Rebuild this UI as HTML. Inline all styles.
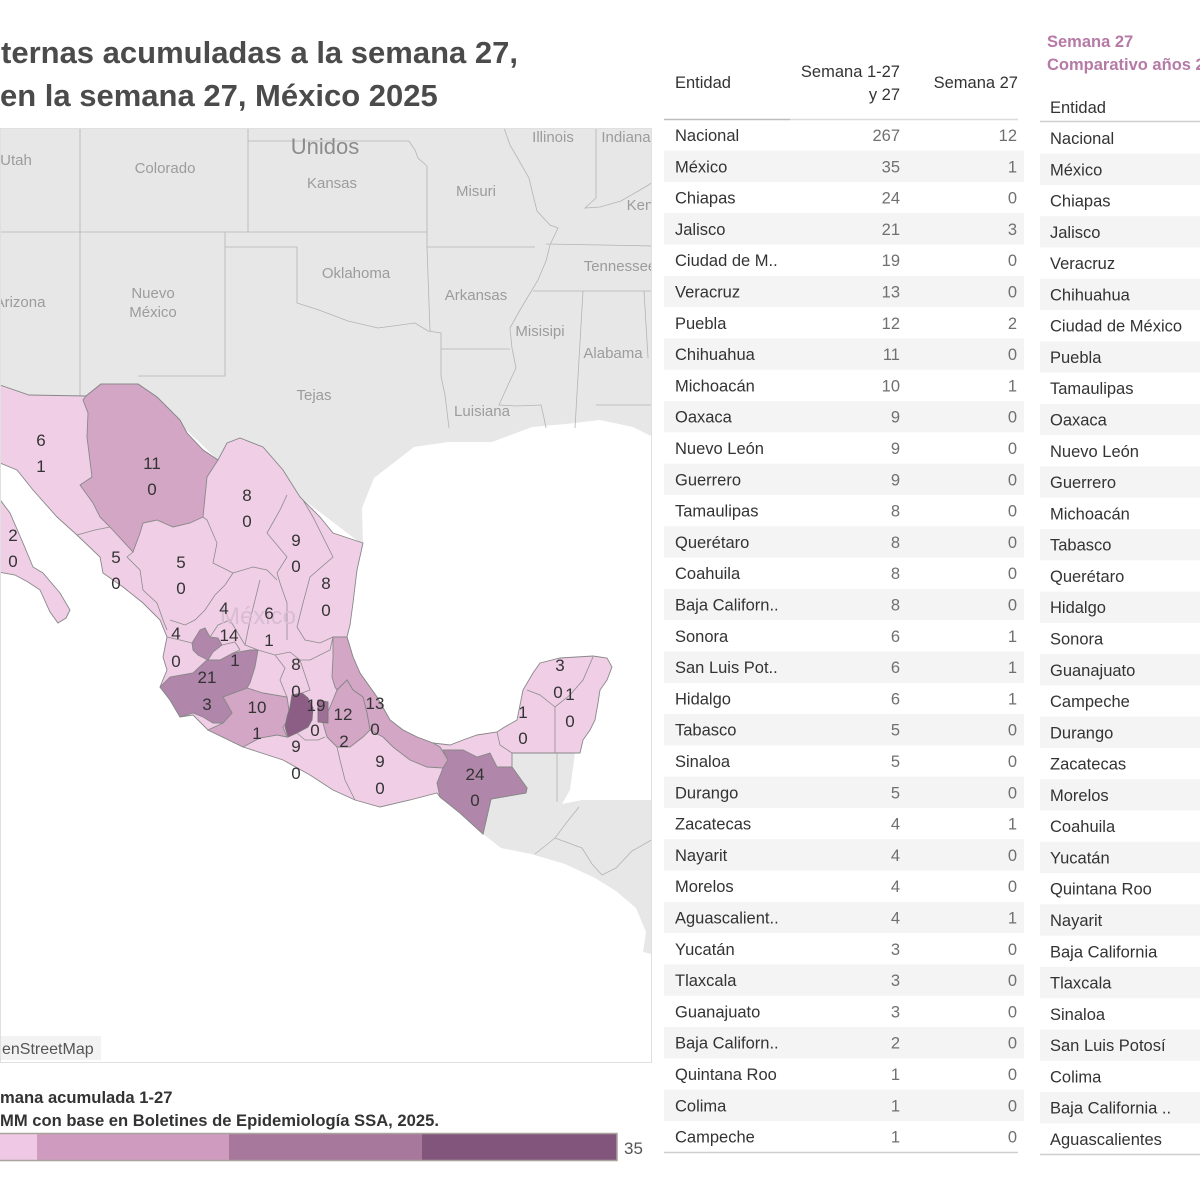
<!DOCTYPE html>
<html><head><meta charset="utf-8"><style>
html,body{margin:0;padding:0;background:#fff;width:1200px;height:1200px;overflow:hidden}
svg{display:block}
text{font-family:"Liberation Sans",sans-serif}
.t{font-size:16.5px;fill:#333}
.n{font-size:16.5px;fill:#707070;text-anchor:end}
.us{font-size:15px;fill:#9c9c9c;text-anchor:middle}
.ml{font-size:17px;fill:#333;text-anchor:middle}
.b{fill:none;stroke:#8c8c8c;stroke-width:0.8}
.ub{fill:none;stroke:#b4b4b4;stroke-width:0.8}
</style></head><body>
<svg width="1200" height="1200" viewBox="0 0 1200 1200" xmlns="http://www.w3.org/2000/svg">
<defs><clipPath id="mc"><rect x="0" y="128" width="651" height="934"/></clipPath></defs>

<!-- Title -->
<text x="1" y="63" style="font-size:31px;font-weight:bold;fill:#4b4b4b">ternas acumuladas a la semana 27,</text>
<text x="0" y="106" style="font-size:31px;font-weight:bold;fill:#4b4b4b">en la semana 27, México 2025</text>

<!-- Map -->
<g clip-path="url(#mc)">
<rect x="0" y="128" width="651" height="934" fill="#fff"/>
<path fill="#e7e7e7" d="M0,128 L651,128 L651,436 L633,427 L600,420 L566,424 L532,427 L492,442 L448,442 L414,447 L374,478 L362,508 L363,545 L300,497 L218,460 L138,384 L101,384 L86,396 L29,395 L0,385 Z"/>
<path fill="#e7e7e7" d="M512,753 L575,753 L570,790 L562,804 L582,800 L655,800 L655,955 L643,952 L646,932 L636,908 L616,891 L595,878 L565,864 L531,854 L501,848 L483,834 L486,821 L491,799 L526,793 L527,788 L512,767 Z"/>
<!-- US borders -->
<path class="ub" d="M80,128 L80,396 M0,232 L427,232 M248,128 L248,232 M248,141 L409,141 L415,150 L418,158 L427,166 L427,247 M225,232 L225,376 L138,376 M225,247 L297,247 L297,303 L319,310 L348,321 L378,328 L415,323 L428,331 L441,333 L441,376 L445,395 L449,428 M427,247 L535,247 M427,247 L430,331 M441,349 L510,349 M504,128 L510,145 L529,178 L533,195 L537,211 L550,225 L558,228 L550,245 L546,261 L538,280 L529,295 L520,310 L510,328 L512,348 L516,368 L508,385 L499,405 L516,406 L541,405 L544,418 L546,428 M546,244 L655,246 M596,128 L596,198 L585,208 L600,207 L621,201 L640,190 L655,181 M533,291 L655,291 M583,291 L575,428 M644,291 L648,358 M596,405 L655,405"/>
<path class="ub" d="M557,753 L557,802 M579,807 L567,822 L555,838 L535,854 M555,838 L582,848 L592,864 L602,875 L616,868 L632,851 L655,838"/>
<!-- US labels -->
<text x="16" y="165" class="us">Utah</text>
<text x="165" y="173" class="us">Colorado</text>
<text x="325" y="154" class="us" style="font-size:22px;fill:#8c8c8c">Unidos</text>
<text x="332" y="188" class="us">Kansas</text>
<text x="476" y="196" class="us">Misuri</text>
<text x="553" y="142" class="us">Illinois</text>
<text x="626" y="142" class="us">Indiana</text>
<text x="640" y="210" class="us">Ken</text>
<text x="620" y="271" class="us">Tennessee</text>
<text x="356" y="278" class="us">Oklahoma</text>
<text x="476" y="300" class="us">Arkansas</text>
<text x="20" y="307" class="us">Arizona</text>
<text x="153" y="298" class="us">Nuevo</text>
<text x="153" y="317" class="us">México</text>
<text x="540" y="336" class="us">Misisipi</text>
<text x="613" y="358" class="us">Alabama</text>
<text x="314" y="400" class="us">Tejas</text>
<text x="482" y="416" class="us">Luisiana</text>

<!-- Mexico base -->
<path fill="#efcee6" stroke="#888" stroke-width="0.9" d="M0,385 L29,395 L86,396 L101,384 L138,384 L157,397 L180,420 L187,433 L203,450 L218,460 L227,443 L240,438 L263,447 L283,470 L300,497 L320,517 L333,533 L363,543 L357,570 L353,603 L350,625 L347,637 L353,657 L360,673 L377,697 L390,720 L403,730 L417,737 L433,743 L450,745 L463,740 L477,735 L497,732 L503,728 L517,720 L523,690 L533,673 L540,663 L560,658 L593,656 L607,658 L612,667 L607,680 L600,690 L598,703 L595,720 L590,730 L583,740 L580,753 L512,753 L512,767 L527,788 L526,793 L491,799 L486,821 L483,834 L460,813 L440,797 L437,793 L410,800 L380,807 L355,800 L333,790 L310,775 L283,760 L243,747 L208,730 L193,715 L180,717 L170,700 L160,687 L167,670 L163,657 L167,637 L160,620 L143,603 L123,587 L103,573 L100,557 L77,535 L57,517 L33,490 L17,470 L0,463 Z"/>
<path fill="#efcee6" stroke="#888" stroke-width="0.9" d="M-2,497 L10,513 L23,543 L33,567 L43,573 L60,593 L70,610 L66,618 L58,623 L50,612 L40,590 L28,582 L15,575 L-2,572 Z"/>
<!-- medium states -->
<path fill="#d3a6c6" stroke="#888" stroke-width="0.9" d="M86,396 L101,384 L138,384 L157,397 L180,420 L187,433 L203,450 L218,460 L207,477 L203,517 L190,523 L173,527 L157,520 L143,523 L140,533 L133,552 L110,527 L100,517 L93,503 L80,485 L92,477 L87,437 L88,413 L83,400 Z"/>
<path fill="#d3a6c6" stroke="#888" stroke-width="0.9" d="M333,637 L347,637 L353,657 L360,673 L377,697 L390,720 L403,730 L417,737 L433,743 L440,747 L448,760 L443,768 L427,767 L410,760 L393,747 L383,737 L370,730 L367,713 L363,697 L353,690 L347,680 L337,690 L335,687 L332,677 L333,657 Z"/>
<path fill="#d3a6c6" stroke="#888" stroke-width="0.9" d="M337,690 L347,680 L353,690 L363,697 L367,713 L370,730 L363,737 L350,747 L337,747 L327,737 L323,723 L330,707 Z"/>
<path fill="#d3a6c6" stroke="#888" stroke-width="0.9" d="M223,697 L247,688 L263,693 L287,697 L290,717 L283,727 L287,737 L277,735 L260,738 L243,747 L208,730 L223,723 L232,713 Z"/>
<!-- dark states -->
<path fill="#b086aa" stroke="#888" stroke-width="0.9" d="M160,687 L170,677 L193,673 L207,660 L220,660 L233,653 L250,650 L258,650 L255,667 L250,683 L247,688 L223,697 L232,713 L223,723 L213,723 L203,717 L193,713 L180,717 L170,700 Z"/>
<path fill="#b086aa" stroke="#888" stroke-width="0.9" d="M192,643 L200,630 L205,628 L210,637 L218,638 L222,645 L213,652 L208,660 L198,655 L193,650 Z"/>
<path fill="#b086aa" stroke="#888" stroke-width="0.9" d="M437,783 L443,768 L448,760 L443,750 L463,750 L477,757 L490,753 L497,767 L512,767 L527,788 L526,793 L491,799 L486,821 L483,834 L460,813 L440,797 Z"/>
<path fill="#8c5e86" stroke="#777" stroke-width="0.9" d="M292,695 L302,693 L308,698 L313,708 L312,720 L308,727 L297,733 L288,737 L285,727 L287,717 L290,707 Z"/>
<path fill="#9e7096" stroke="#777" stroke-width="0.9" d="M318,700 L328,702 L328,723 L318,722 Z"/>
<!-- internal borders -->
<path class="b" d="M110,527 L95,530 L77,535 M133,552 L127,557 L140,570 L143,590 L157,603 L163,620 L167,630 M203,517 L207,520 L217,543 L213,563 L233,573 M233,573 L225,585 L215,595 L205,610 L195,620 L185,625 L170,620 M167,637 L180,640 L192,643 M233,573 L253,567 L267,570 L277,580 M287,495 L280,510 L267,533 L287,557 L277,573 L280,583 L287,603 L287,623 M303,500 L313,517 L333,557 L310,577 L303,603 L297,627 L305,640 L320,643 L333,637 M260,580 L255,600 L250,620 L245,645 L258,650 M258,650 L275,655 L290,652 L300,660 L310,660 L330,650 L333,637 M275,655 L285,668 L280,680 L287,697 M300,660 L305,675 L310,690 L302,693 M222,645 L235,642 L240,650 L233,653 M210,637 L218,625 L230,620 L245,645 M297,733 L305,740 L318,740 L325,737 M337,747 L340,760 L345,780 L355,800 M497,732 L500,745 L512,753 M527,690 L540,695 L555,707 M593,657 L583,680 L570,695 L555,707 L555,753 M287,623 L287,640"/>
<text x="258" y="624" style="font-size:24px;fill:#d8bdd2;text-anchor:middle">México</text>
<!-- labels -->
<g class="ml">
<text x="41" y="446" class="ml">6</text><text x="41" y="472" class="ml">1</text>
<text x="13" y="541" class="ml">2</text><text x="13" y="567" class="ml">0</text>
<text x="152" y="469" class="ml">11</text><text x="152" y="495" class="ml">0</text>
<text x="247" y="501" class="ml">8</text><text x="247" y="527" class="ml">0</text>
<text x="296" y="546" class="ml">9</text><text x="296" y="572" class="ml">0</text>
<text x="326" y="589" class="ml">8</text><text x="326" y="616" class="ml">0</text>
<text x="116" y="563" class="ml">5</text><text x="116" y="589" class="ml">0</text>
<text x="181" y="568" class="ml">5</text><text x="181" y="594" class="ml">0</text>
<text x="224" y="614" class="ml">4</text>
<text x="269" y="619" class="ml">6</text><text x="269" y="646" class="ml">1</text>
<text x="229" y="641" class="ml">14</text><text x="235" y="666" class="ml">1</text>
<text x="176" y="639" class="ml">4</text><text x="176" y="667" class="ml">0</text>
<text x="207" y="683" class="ml">21</text><text x="207" y="710" class="ml">3</text>
<text x="296" y="670" class="ml">8</text><text x="296" y="697" class="ml">0</text>
<text x="257" y="713" class="ml">10</text><text x="257" y="739" class="ml">1</text>
<text x="316" y="711" class="ml">19</text><text x="315" y="736" class="ml">0</text>
<text x="343" y="720" class="ml">12</text><text x="344" y="747" class="ml">2</text>
<text x="375" y="709" class="ml">13</text><text x="375" y="735" class="ml">0</text>
<text x="296" y="752" class="ml">9</text><text x="296" y="779" class="ml">0</text>
<text x="380" y="767" class="ml">9</text><text x="380" y="794" class="ml">0</text>
<text x="475" y="780" class="ml">24</text><text x="475" y="806" class="ml">0</text>
<text x="523" y="718" class="ml">1</text><text x="523" y="744" class="ml">0</text>
<text x="560" y="671" class="ml">3</text><text x="558" y="698" class="ml">0</text>
<text x="570" y="700" class="ml">1</text><text x="570" y="727" class="ml">0</text>
</g>
<rect x="0" y="1036" width="101" height="24" fill="#f3f3f3"/>
<text x="2" y="1054" style="font-size:16px;fill:#555">enStreetMap</text>
</g>
<rect x="0.5" y="128.5" width="651" height="934" fill="none" stroke="#e0e0e0"/>

<!-- Legend -->
<text x="0" y="1103" style="font-size:16.6px;font-weight:bold;fill:#333">mana acumulada 1-27</text>
<text x="0" y="1126" style="font-size:16.6px;font-weight:bold;fill:#333">MM con base en Boletines de Epidemiología SSA, 2025.</text>
<rect x="0" y="1134" width="37" height="26" fill="#efc8e5"/>
<rect x="37" y="1134" width="192" height="26" fill="#cf9bbe"/>
<rect x="229" y="1134" width="193" height="26" fill="#a7789c"/>
<rect x="422" y="1134" width="195" height="26" fill="#81557c"/>
<rect x="-1" y="1133.5" width="618" height="27" fill="none" stroke="#a9a39c" stroke-width="1.5"/>
<text x="624" y="1154" style="font-size:17px;fill:#555">35</text>

<!-- Left table -->
<g fill="#f4f4f4">
<rect x="664" y="150.65" width="360" height="31.3"/><rect x="664" y="213.25" width="360" height="31.3"/>
<rect x="664" y="275.85" width="360" height="31.3"/><rect x="664" y="338.45" width="360" height="31.3"/>
<rect x="664" y="401.05" width="360" height="31.3"/><rect x="664" y="463.65" width="360" height="31.3"/>
<rect x="664" y="526.25" width="360" height="31.3"/><rect x="664" y="588.85" width="360" height="31.3"/>
<rect x="664" y="651.45" width="360" height="31.3"/><rect x="664" y="714.05" width="360" height="31.3"/>
<rect x="664" y="776.65" width="360" height="31.3"/><rect x="664" y="839.25" width="360" height="31.3"/>
<rect x="664" y="901.85" width="360" height="31.3"/><rect x="664" y="964.45" width="360" height="31.3"/>
<rect x="664" y="1027.05" width="360" height="31.3"/><rect x="664" y="1089.65" width="360" height="31.3"/>
</g>
<text x="675" y="88" class="t">Entidad</text>
<text x="900" y="77" class="n" style="fill:#333">Semana 1-27</text>
<text x="900" y="100" class="n" style="fill:#333">y 27</text>
<text x="1018" y="88" class="n" style="fill:#333">Semana 27</text>
<line x1="664" y1="119.5" x2="790" y2="119.5" stroke="#bdbdbd" stroke-width="1.5"/>
<line x1="790" y1="119.5" x2="1018" y2="119.5" stroke="#dcdcdc" stroke-width="1.5"/>
<line x1="664" y1="1152.5" x2="1018" y2="1152.5" stroke="#cfcfcf" stroke-width="1.5"/>
<g>
<text x="675" y="141" class="t">Nacional</text><text x="900" y="141" class="n">267</text><text x="1017" y="141" class="n">12</text>
<text x="675" y="172.3" class="t">México</text><text x="900" y="172.3" class="n">35</text><text x="1017" y="172.3" class="n">1</text>
<text x="675" y="203.6" class="t">Chiapas</text><text x="900" y="203.6" class="n">24</text><text x="1017" y="203.6" class="n">0</text>
<text x="675" y="234.9" class="t">Jalisco</text><text x="900" y="234.9" class="n">21</text><text x="1017" y="234.9" class="n">3</text>
<text x="675" y="266.2" class="t">Ciudad de M..</text><text x="900" y="266.2" class="n">19</text><text x="1017" y="266.2" class="n">0</text>
<text x="675" y="297.5" class="t">Veracruz</text><text x="900" y="297.5" class="n">13</text><text x="1017" y="297.5" class="n">0</text>
<text x="675" y="328.8" class="t">Puebla</text><text x="900" y="328.8" class="n">12</text><text x="1017" y="328.8" class="n">2</text>
<text x="675" y="360.1" class="t">Chihuahua</text><text x="900" y="360.1" class="n">11</text><text x="1017" y="360.1" class="n">0</text>
<text x="675" y="391.4" class="t">Michoacán</text><text x="900" y="391.4" class="n">10</text><text x="1017" y="391.4" class="n">1</text>
<text x="675" y="422.7" class="t">Oaxaca</text><text x="900" y="422.7" class="n">9</text><text x="1017" y="422.7" class="n">0</text>
<text x="675" y="454" class="t">Nuevo León</text><text x="900" y="454" class="n">9</text><text x="1017" y="454" class="n">0</text>
<text x="675" y="485.3" class="t">Guerrero</text><text x="900" y="485.3" class="n">9</text><text x="1017" y="485.3" class="n">0</text>
<text x="675" y="516.6" class="t">Tamaulipas</text><text x="900" y="516.6" class="n">8</text><text x="1017" y="516.6" class="n">0</text>
<text x="675" y="547.9" class="t">Querétaro</text><text x="900" y="547.9" class="n">8</text><text x="1017" y="547.9" class="n">0</text>
<text x="675" y="579.2" class="t">Coahuila</text><text x="900" y="579.2" class="n">8</text><text x="1017" y="579.2" class="n">0</text>
<text x="675" y="610.5" class="t">Baja Californ..</text><text x="900" y="610.5" class="n">8</text><text x="1017" y="610.5" class="n">0</text>
<text x="675" y="641.8" class="t">Sonora</text><text x="900" y="641.8" class="n">6</text><text x="1017" y="641.8" class="n">1</text>
<text x="675" y="673.1" class="t">San Luis Pot..</text><text x="900" y="673.1" class="n">6</text><text x="1017" y="673.1" class="n">1</text>
<text x="675" y="704.4" class="t">Hidalgo</text><text x="900" y="704.4" class="n">6</text><text x="1017" y="704.4" class="n">1</text>
<text x="675" y="735.7" class="t">Tabasco</text><text x="900" y="735.7" class="n">5</text><text x="1017" y="735.7" class="n">0</text>
<text x="675" y="767" class="t">Sinaloa</text><text x="900" y="767" class="n">5</text><text x="1017" y="767" class="n">0</text>
<text x="675" y="798.3" class="t">Durango</text><text x="900" y="798.3" class="n">5</text><text x="1017" y="798.3" class="n">0</text>
<text x="675" y="829.6" class="t">Zacatecas</text><text x="900" y="829.6" class="n">4</text><text x="1017" y="829.6" class="n">1</text>
<text x="675" y="860.9" class="t">Nayarit</text><text x="900" y="860.9" class="n">4</text><text x="1017" y="860.9" class="n">0</text>
<text x="675" y="892.2" class="t">Morelos</text><text x="900" y="892.2" class="n">4</text><text x="1017" y="892.2" class="n">0</text>
<text x="675" y="923.5" class="t">Aguascalient..</text><text x="900" y="923.5" class="n">4</text><text x="1017" y="923.5" class="n">1</text>
<text x="675" y="954.8" class="t">Yucatán</text><text x="900" y="954.8" class="n">3</text><text x="1017" y="954.8" class="n">0</text>
<text x="675" y="986.1" class="t">Tlaxcala</text><text x="900" y="986.1" class="n">3</text><text x="1017" y="986.1" class="n">0</text>
<text x="675" y="1017.4" class="t">Guanajuato</text><text x="900" y="1017.4" class="n">3</text><text x="1017" y="1017.4" class="n">0</text>
<text x="675" y="1048.7" class="t">Baja Californ..</text><text x="900" y="1048.7" class="n">2</text><text x="1017" y="1048.7" class="n">0</text>
<text x="675" y="1080" class="t">Quintana Roo</text><text x="900" y="1080" class="n">1</text><text x="1017" y="1080" class="n">0</text>
<text x="675" y="1111.3" class="t">Colima</text><text x="900" y="1111.3" class="n">1</text><text x="1017" y="1111.3" class="n">0</text>
<text x="675" y="1142.6" class="t">Campeche</text><text x="900" y="1142.6" class="n">1</text><text x="1017" y="1142.6" class="n">0</text>
</g>

<!-- Right table -->
<text x="1047" y="47" style="font-size:16.5px;font-weight:bold;fill:#b57aa6">Semana 27</text>
<text x="1047" y="70" style="font-size:16.5px;font-weight:bold;fill:#b57aa6">Comparativo años 2024</text>
<g fill="#f4f4f4">
<rect x="1040" y="153.64" width="160" height="31.28"/><rect x="1040" y="216.2" width="160" height="31.28"/>
<rect x="1040" y="278.76" width="160" height="31.28"/><rect x="1040" y="341.32" width="160" height="31.28"/>
<rect x="1040" y="403.88" width="160" height="31.28"/><rect x="1040" y="466.44" width="160" height="31.28"/>
<rect x="1040" y="529" width="160" height="31.28"/><rect x="1040" y="591.56" width="160" height="31.28"/>
<rect x="1040" y="654.12" width="160" height="31.28"/><rect x="1040" y="716.68" width="160" height="31.28"/>
<rect x="1040" y="779.24" width="160" height="31.28"/><rect x="1040" y="841.8" width="160" height="31.28"/>
<rect x="1040" y="904.36" width="160" height="31.28"/><rect x="1040" y="966.92" width="160" height="31.28"/>
<rect x="1040" y="1029.48" width="160" height="31.28"/><rect x="1040" y="1092.04" width="160" height="31.28"/>
</g>
<text x="1050" y="113" class="t">Entidad</text>
<line x1="1040" y1="121.5" x2="1200" y2="121.5" stroke="#cfcfcf" stroke-width="1.5"/>
<line x1="1040" y1="1154.5" x2="1200" y2="1154.5" stroke="#cfcfcf" stroke-width="1.5"/>
<g>
<text x="1050" y="144" class="t">Nacional</text>
<text x="1050" y="175.28" class="t">México</text>
<text x="1050" y="206.56" class="t">Chiapas</text>
<text x="1050" y="237.84" class="t">Jalisco</text>
<text x="1050" y="269.12" class="t">Veracruz</text>
<text x="1050" y="300.4" class="t">Chihuahua</text>
<text x="1050" y="331.68" class="t">Ciudad de México</text>
<text x="1050" y="362.96" class="t">Puebla</text>
<text x="1050" y="394.24" class="t">Tamaulipas</text>
<text x="1050" y="425.52" class="t">Oaxaca</text>
<text x="1050" y="456.8" class="t">Nuevo León</text>
<text x="1050" y="488.08" class="t">Guerrero</text>
<text x="1050" y="519.36" class="t">Michoacán</text>
<text x="1050" y="550.64" class="t">Tabasco</text>
<text x="1050" y="581.92" class="t">Querétaro</text>
<text x="1050" y="613.2" class="t">Hidalgo</text>
<text x="1050" y="644.48" class="t">Sonora</text>
<text x="1050" y="675.76" class="t">Guanajuato</text>
<text x="1050" y="707.04" class="t">Campeche</text>
<text x="1050" y="738.32" class="t">Durango</text>
<text x="1050" y="769.6" class="t">Zacatecas</text>
<text x="1050" y="800.88" class="t">Morelos</text>
<text x="1050" y="832.16" class="t">Coahuila</text>
<text x="1050" y="863.44" class="t">Yucatán</text>
<text x="1050" y="894.72" class="t">Quintana Roo</text>
<text x="1050" y="926" class="t">Nayarit</text>
<text x="1050" y="957.28" class="t">Baja California</text>
<text x="1050" y="988.56" class="t">Tlaxcala</text>
<text x="1050" y="1019.84" class="t">Sinaloa</text>
<text x="1050" y="1051.12" class="t">San Luis Potosí</text>
<text x="1050" y="1082.4" class="t">Colima</text>
<text x="1050" y="1113.68" class="t">Baja California ..</text>
<text x="1050" y="1144.96" class="t">Aguascalientes</text>
</g>
</svg>
</body></html>
